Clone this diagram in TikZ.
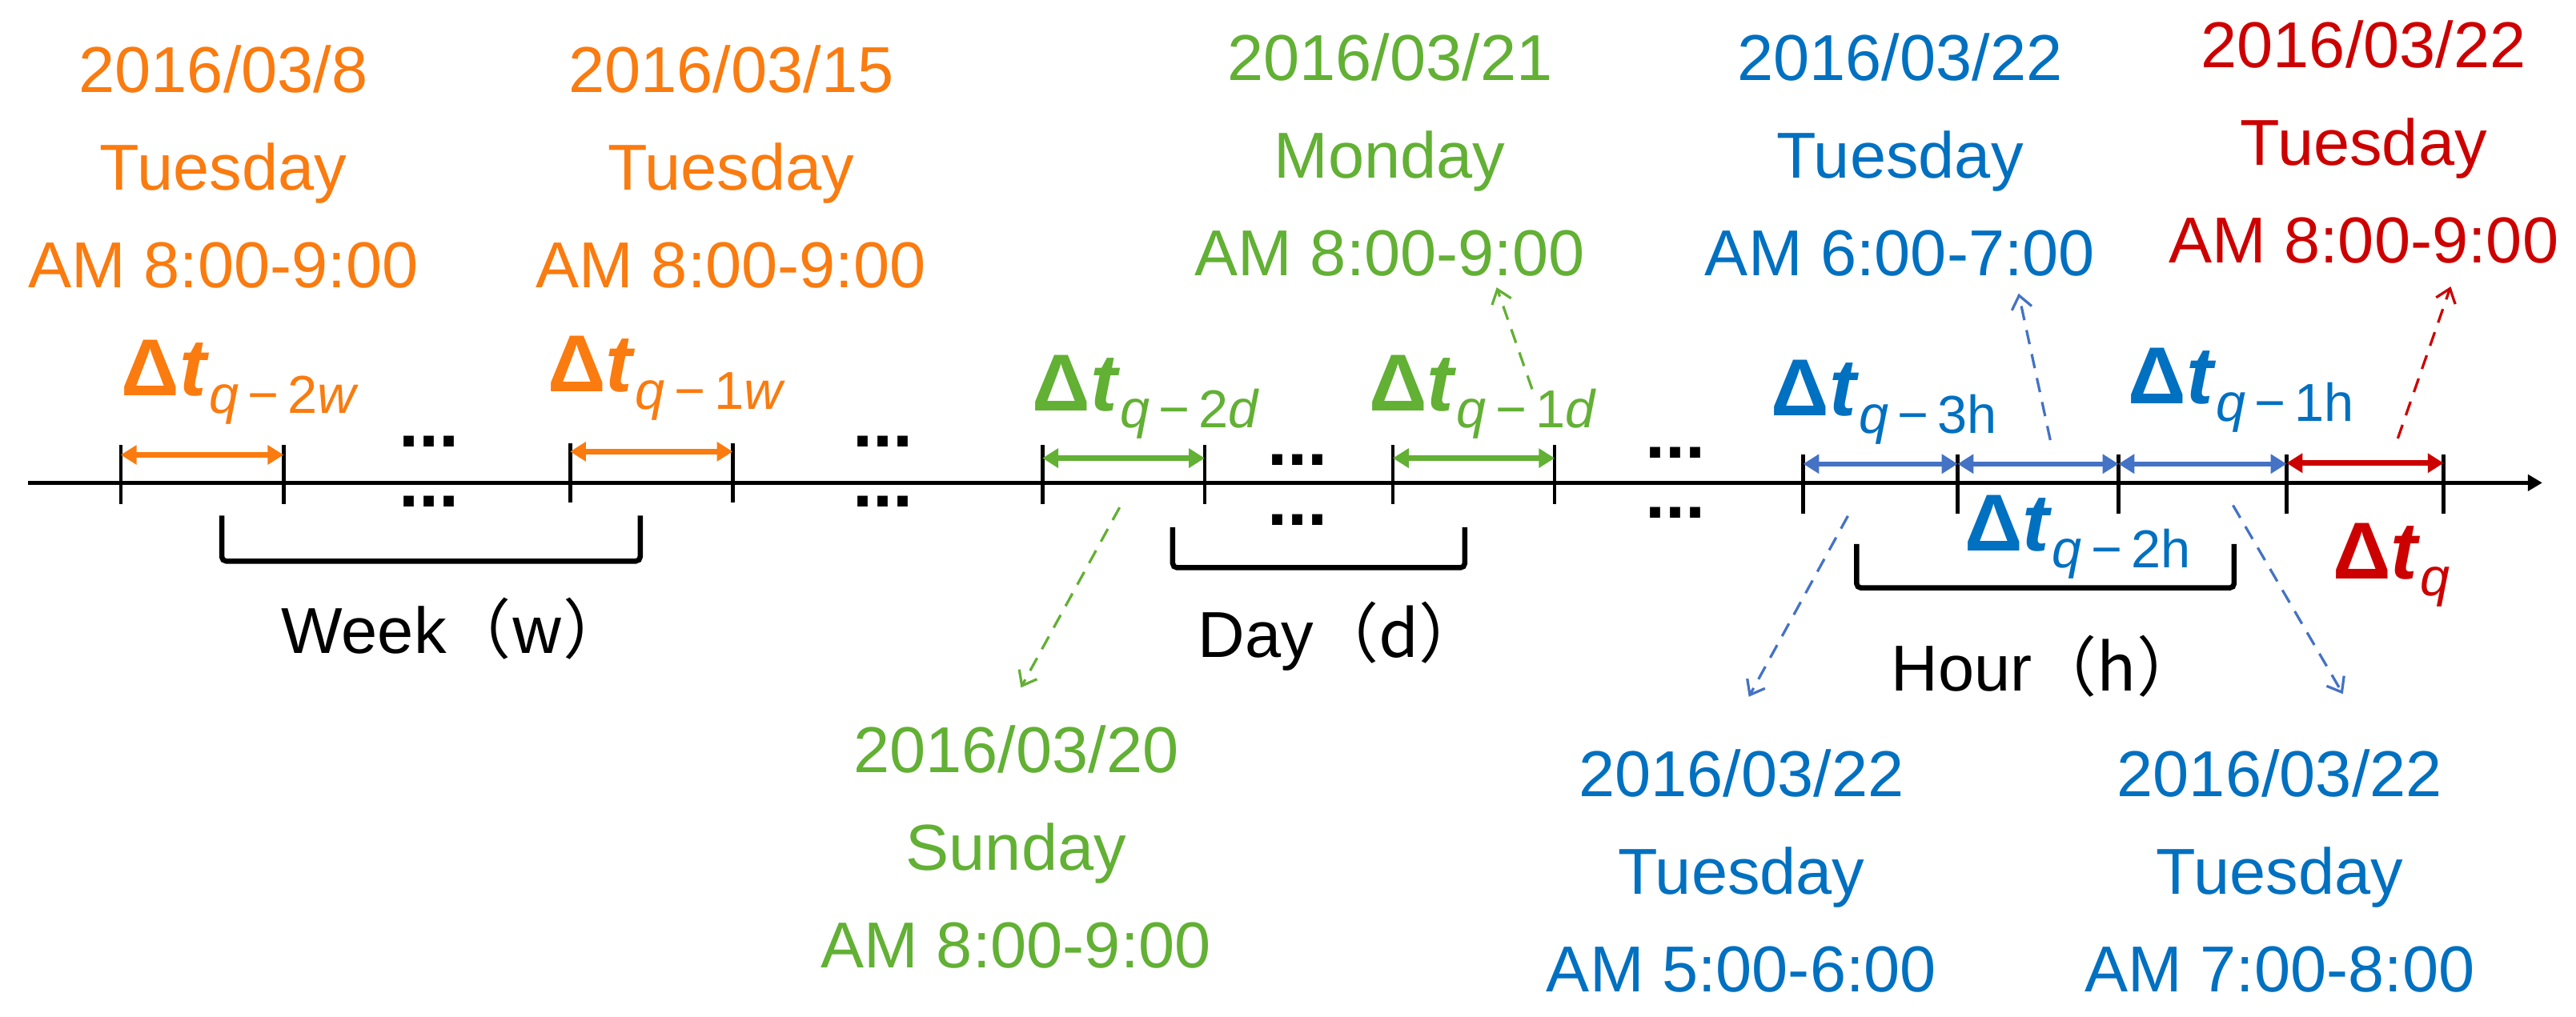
\documentclass[tikz,border=0pt]{standalone}
\usepackage{fontspec}
\setmainfont{Liberation Sans}
\newfontfamily\cjk{Noto Sans CJK SC}
\usetikzlibrary{arrows.meta,calc,positioning}
\definecolor{wkorange}{RGB}{250,123,15}
\definecolor{dygreen}{RGB}{98,176,52}
\definecolor{hrblue}{RGB}{0,112,192}
\definecolor{hrarrow}{RGB}{68,114,196}
\definecolor{nowred}{RGB}{205,0,0}
\newcommand{\dtlabel}[1]{{\fontsize{28}{30}\selectfont\bfseries Δ\textit{t}}\raisebox{-6pt}{\fontsize{18.5}{19}\selectfont #1}}
\tikzset{
date/.style = {align=center, inner sep=0pt, anchor=base, font=\fontsize{22.5}{33.85}\selectfont},
delta/.style = {inner sep=0pt, anchor=base west},
caption/.style = {inner sep=0pt, anchor=base west, font=\fontsize{22.5}{27}\selectfont},
dots/.style = {align=center, inner sep=0pt, anchor=base, font=\fontsize{25}{20.8}\selectfont\bfseries},
tick/.style = {line width=1.3pt},
span/.style = {line width=1.8pt, {Triangle[length=5.5pt,width=6.5pt]}-{Triangle[length=5.5pt,width=6.5pt]}},
link/.style = {line width=0.9pt, dash pattern=on 5pt off 3.5pt, -{Straight Barb[length=4.5pt,width=7pt]}},
bracket/.style = {line width=1.8pt, rounded corners=1.5pt}
}

\begin{document}
\begin{tikzpicture}[x=0.2mm, y=-0.2mm]
	\useasboundingbox (0,0) rectangle (1568,619);

	% time axis
	\coordinate (start) at (17,294);
	\coordinate (end) at (1547.5,294);
	\draw[line width=1.3pt, -{Triangle[length=5pt,width=5.5pt]}] (start) -- (end);

	\coordinate (w1) at (73.5,294);
	\coordinate (w2) at (172.6,294);
	\coordinate (w3) at (347,294);
	\coordinate (w4) at (446,294);
	\coordinate (d1) at (634.5,294);
	\coordinate (d2) at (733.3,294);
	\coordinate (d3) at (847.8,294);
	\coordinate (d4) at (946.3,294);
	\coordinate (h1) at (1097.6,294);
	\coordinate (h2) at (1191.6,294);
	\coordinate (h3) at (1289.5,294);
	\coordinate (h4) at (1391.8,294);
	\coordinate (h5) at (1487.4,294);

	\draw[tick] ($(w1)+(0,-23)$) -- ++(0,36);
	\draw[tick] ($(w2)+(0,-23)$) -- ++(0,36);
	\draw[tick] ($(w3)+(0,-24)$) -- ++(0,36);
	\draw[tick] ($(w4)+(0,-24)$) -- ++(0,36);
	\draw[tick] ($(d1)+(0,-23)$) -- ++(0,36);
	\draw[tick] ($(d2)+(0,-23)$) -- ++(0,36);
	\draw[tick] ($(d3)+(0,-23)$) -- ++(0,36);
	\draw[tick] ($(d4)+(0,-23)$) -- ++(0,36);
	\draw[tick] ($(h1)+(0,-17)$) -- ++(0,36);
	\draw[tick] ($(h2)+(0,-17)$) -- ++(0,36);
	\draw[tick] ($(h3)+(0,-17)$) -- ++(0,36);
	\draw[tick] ($(h4)+(0,-17)$) -- ++(0,36);
	\draw[tick] ($(h5)+(0,-17)$) -- ++(0,36);

	% intervals
	\draw[span, wkorange] ($(w1)+(0,-17)$) -- ($(w2)+(0,-17)$);
	\draw[span, wkorange] ($(w3)+(0,-19)$) -- ($(w4)+(0,-19)$);
	\draw[span, dygreen] ($(d1)+(0,-15)$) -- ($(d2)+(0,-15)$);
	\draw[span, dygreen] ($(d3)+(0,-15)$) -- ($(d4)+(0,-15)$);
	\draw[span, hrarrow] ($(h1)+(0,-11.5)$) -- ($(h2)+(0,-11.5)$);
	\draw[span, hrarrow] ($(h2)+(0,-11.5)$) -- ($(h3)+(0,-11.5)$);
	\draw[span, hrarrow] ($(h3)+(0,-11.5)$) -- ($(h4)+(0,-11.5)$);
	\draw[span, nowred] ($(h4)+(0,-12)$) -- ($(h5)+(0,-12)$);

	% dots (anchored at the lower row)
	\node[dots] (dotw) at (261,308.5) {...\\...};
	\node[dots] (dotm) at (537.5,308.5) {...\\...};
	\node[dots] (dotd) at (790,319.7) {...\\...};
	\node[dots] (doth) at (1020,315.6) {...\\...};

	% interval labels
	\node[delta, wkorange] (dt2w) at (73.5,241) {\dtlabel{\textit{q}\,−\,2\textit{w}}};
	\node[delta, wkorange] (dt1w) at (333,238.6) {\dtlabel{\textit{q}\,−\,1\textit{w}}};
	\node[delta, dygreen] (dt2d) at (628,250) {\dtlabel{\textit{q}\,−\,2\textit{d}}};
	\node[delta, dygreen] (dt1d) at (833,250) {\dtlabel{\textit{q}\,−\,1\textit{d}}};
	\node[delta, hrblue] (dt3h) at (1077.7,253.3) {\dtlabel{\textit{q}\,−\,3h}};
	\node[delta, hrblue] (dt1h) at (1295,246) {\dtlabel{\textit{q}\,−\,1h}};
	\node[delta, hrblue] (dt2h) at (1195.5,335.3) {\dtlabel{\textit{q}\,−\,2h}};
	\node[delta, nowred] (dtq) at (1419.6,352.4) {\dtlabel{\textit{q}}};

	% brackets
	\coordinate (wkL) at (135,314);
	\coordinate (wkR) at (389.7,314);
	\coordinate (dyL) at (713.8,321);
	\coordinate (dyR) at (891.6,321);
	\coordinate (hrL) at (1130.1,331.3);
	\coordinate (hrR) at (1359.9,331.3);
	\draw[bracket] (wkL) -- ++(0,27.7) -| (wkR);
	\draw[bracket] (dyL) -- ++(0,24.7) -| (dyR);
	\draw[bracket] (hrL) -- ++(0,26.7) -| (hrR);
	\node[caption] (week) at (171,397.7) {Week\cjk{（}w\cjk{）}};
	\node[caption] (day) at (729,400.4) {Day\cjk{（}d\cjk{）}};
	\node[caption] (hour) at (1151,420.7) {Hour\cjk{（}h\cjk{）}};

	% dates (anchored at the last line)
	\node[date, wkorange] (mar8) at (136,175.3) {2016/03/8\\Tuesday\\AM 8:00-9:00};
	\node[date, wkorange] (mar15) at (445,175.3) {2016/03/15\\Tuesday\\AM 8:00-9:00};
	\node[date, dygreen] (mar21) at (846,168) {2016/03/21\\Monday\\AM 8:00-9:00};
	\node[date, hrblue] (mar22b) at (1156.5,168) {2016/03/22\\Tuesday\\AM 6:00-7:00};
	\node[date, nowred] (mar22q) at (1438.7,160) {2016/03/22\\Tuesday\\AM 8:00-9:00};
	\node[date, dygreen] (mar20) at (618.5,589.5) {2016/03/20\\Sunday\\AM 8:00-9:00};
	\node[date, hrblue] (mar22a) at (1060,604.1) {2016/03/22\\Tuesday\\AM 5:00-6:00};
	\node[date, hrblue] (mar22c) at (1387.6,604.1) {2016/03/22\\Tuesday\\AM 7:00-8:00};

	% links
	\coordinate (sunFrom) at (681.5,309);
	\coordinate (sunTo) at (621.4,418.7);
	\coordinate (monFrom) at (932.6,237);
	\coordinate (monTo) at (911,175);
	\coordinate (sixFrom) at (1248,268);
	\coordinate (sixTo) at (1228.7,178.7);
	\coordinate (eightFrom) at (1459.5,267);
	\coordinate (eightTo) at (1491.7,174.5);
	\coordinate (fiveFrom) at (1124.8,314.2);
	\coordinate (fiveTo) at (1064.5,424.3);
	\coordinate (sevenFrom) at (1359.2,307.7);
	\coordinate (sevenTo) at (1426.1,422.6);
	\draw[link, dygreen] (sunFrom) -- (sunTo);
	\draw[link, dygreen] (monFrom) -- (monTo);
	\draw[link, hrarrow] (sixFrom) -- (sixTo);
	\draw[link, nowred] (eightFrom) -- (eightTo);
	\draw[link, hrarrow] (fiveFrom) -- (fiveTo);
	\draw[link, hrarrow] (sevenFrom) -- (sevenTo);
\end{tikzpicture}
\end{document}
